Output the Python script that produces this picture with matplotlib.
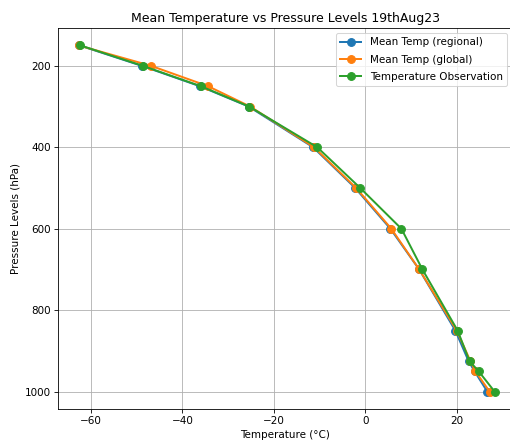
import matplotlib
matplotlib.use("Agg")
import matplotlib.pyplot as plt

# pressure levels (hPa)
levels = [150, 200, 250, 300, 400, 500, 600, 700, 850, 925, 950, 1000]

# temperatures (°C)
temp_regional = [-62.5, -48.9, -36.2, -25.5, -11.4, -2.2, 5.5, 11.8, 19.7, 22.6, 23.9, 26.7]
temp_global = [-62.7, -46.9, -34.4, -25.2, -11.2, -2.0, 5.7, 11.8, 20.0, 23.0, 24.1, 27.2]
temp_obs = [-62.3, -48.7, -36.0, -25.4, -10.5, -1.1, 7.9, 12.5, 20.2, 22.8, 24.8, 28.3]

# low dpi so default font sizes come out small like the original
fig, ax = plt.subplots(figsize=(6.8, 5.9467), dpi=75)

ax.plot(temp_regional, levels, marker="o", ms=7.5, lw=1.9, label="Mean Temp (regional)")
ax.plot(temp_global, levels, marker="o", ms=7.5, lw=1.9, label="Mean Temp (global)")
ax.plot(temp_obs, levels, marker="o", ms=7.5, lw=1.9, label="Temperature Observation")

ax.invert_yaxis()
ax.set_xlim(-67.2, 32.1)
ax.set_xlabel("Temperature (°C)")
ax.set_ylabel("Pressure Levels (hPa)")
ax.set_title("Mean Temperature vs Pressure Levels 19thAug23")
ax.grid(True)
ax.legend(labelspacing=0.7)

# right edge of the axes runs just past the image like in the original
plt.subplots_adjust(left=0.1137, right=1.004, top=0.937, bottom=0.083)
plt.savefig("out.png")
